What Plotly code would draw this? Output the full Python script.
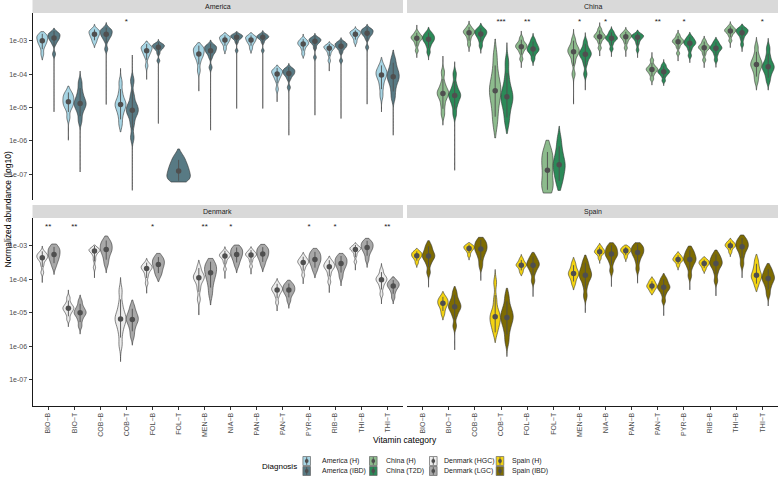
import numpy as np
import plotly.graph_objects as go

# ---------------- data (log10 normalized abundance) ----------------
# each violin: (lowest value, highest value, [bulk of the observations])
categories = ["BIO-B", "BIO-T", "COB-B", "COB-T", "FOL-B", "FOL-T", "MEN-B",
              "NIA-B", "PAN-B", "PAN-T", "PYR-B", "RIB-B", "THI-B", "THI-T"]
tick_labels = [c.replace("-", "\u2212") for c in categories]
y_tick_values = [-3, -4, -5, -6, -7]
y_tick_labels = ["1e-03", "1e-04", "1e-05", "1e-06", "1e-07"]

america_h = {
    "BIO-B": (-3.58, -2.73, [-3.4, -3.2, -3.1, -3.04, -3.0, -2.93, -2.88, -2.85, -2.82]),
    "BIO-T": (-5.98, -4.36, [-5.3, -5.05, -4.95, -4.88, -4.83, -4.74, -4.68, -4.62, -4.52]),
    "COB-B": (-3.21, -2.51, [-3.06, -2.97, -2.9, -2.85, -2.81, -2.76, -2.73, -2.7, -2.66]),
    "COB-T": (-5.73, -3.83, [-5.5, -5.25, -5.08, -4.98, -4.91, -4.85, -4.75, -4.55, -4.25]),
    "FOL-B": (-4.16, -3.01, [-3.75, -3.5, -3.4, -3.34, -3.3, -3.23, -3.2, -3.18, -3.14]),
    "MEN-B": (-4.51, -3.06, [-3.9, -3.65, -3.5, -3.44, -3.4, -3.31, -3.25, -3.22, -3.19]),
    "NIA-B": (-3.40, -2.76, [-3.25, -3.12, -3.05, -3.01, -2.98, -2.93, -2.9, -2.88, -2.86]),
    "PAN-B": (-3.38, -2.76, [-3.24, -3.12, -3.05, -3.01, -2.98, -2.93, -2.9, -2.88, -2.86]),
    "PAN-T": (-4.83, -3.73, [-4.45, -4.2, -4.1, -4.04, -4.0, -3.94, -3.91, -3.89, -3.86]),
    "PYR-B": (-3.53, -2.80, [-3.4, -3.27, -3.18, -3.13, -3.1, -3.07, -3.04, -3.0, -2.95]),
    "RIB-B": (-3.91, -3.03, [-3.6, -3.42, -3.32, -3.27, -3.23, -3.2, -3.18, -3.16, -3.14]),
    "THI-B": (-3.18, -2.58, [-3.05, -2.95, -2.88, -2.84, -2.81, -2.77, -2.75, -2.73, -2.7]),
    "THI-T": (-5.13, -3.50, [-4.65, -4.4, -4.22, -4.1, -4.03, -3.97, -3.92, -3.85, -3.72]),
}
america_ibd = {
    "BIO-B": (-5.13, -2.63, [-3.4, -3.1, -3.0, -2.95, -2.92, -2.86, -2.82, -2.79, -2.76]),
    "BIO-T": (-6.93, -3.91, [-5.4, -5.15, -5.0, -4.92, -4.88, -4.78, -4.68, -4.5, -4.25]),
    "COB-B": (-4.91, -2.46, [-3.25, -3.0, -2.9, -2.85, -2.81, -2.75, -2.71, -2.68, -2.63]),
    "COB-T": (-7.48, -3.43, [-5.9, -5.5, -5.25, -5.15, -5.08, -4.98, -4.9, -4.65, -4.2]),
    "FOL-B": (-5.48, -2.96, [-3.6, -3.38, -3.27, -3.23, -3.2, -3.16, -3.14, -3.12, -3.09]),
    "FOL-T": (-7.23, -6.24, [-7.2, -7.14, -7.08, -7.0, -6.9, -6.82, -6.72, -6.6, -6.45]),
    "MEN-B": (-5.68, -2.98, [-3.8, -3.5, -3.38, -3.33, -3.3, -3.23, -3.2, -3.17, -3.13]),
    "NIA-B": (-5.03, -2.73, [-3.3, -3.05, -2.96, -2.92, -2.9, -2.87, -2.85, -2.83, -2.81]),
    "PAN-B": (-5.03, -2.70, [-3.3, -3.05, -2.96, -2.92, -2.9, -2.88, -2.86, -2.83, -2.8]),
    "PAN-T": (-5.83, -3.68, [-4.4, -4.15, -4.05, -4.0, -3.98, -3.93, -3.89, -3.86, -3.83]),
    "PYR-B": (-5.23, -2.78, [-3.5, -3.22, -3.1, -3.05, -3.02, -2.99, -2.96, -2.94, -2.91]),
    "RIB-B": (-5.33, -2.91, [-3.6, -3.35, -3.24, -3.2, -3.17, -3.13, -3.1, -3.07, -3.04]),
    "THI-B": (-4.90, -2.51, [-3.2, -2.95, -2.85, -2.81, -2.78, -2.73, -2.7, -2.67, -2.64]),
    "THI-T": (-5.83, -3.28, [-4.7, -4.45, -4.25, -4.15, -4.08, -3.98, -3.9, -3.75, -3.55]),
}
china_h = {
    "BIO-B": (-3.51, -2.53, [-3.3, -3.12, -3.02, -2.96, -2.93, -2.9, -2.87, -2.83, -2.75]),
    "BIO-T": (-5.53, -3.46, [-5.2, -4.95, -4.75, -4.64, -4.58, -4.52, -4.45, -4.28, -3.95]),
    "COB-B": (-3.33, -2.41, [-3.12, -2.97, -2.86, -2.8, -2.76, -2.73, -2.7, -2.66, -2.58]),
    "COB-T": (-5.91, -2.95, [-5.5, -5.15, -4.85, -4.65, -4.5, -4.38, -4.2, -3.9, -3.45]),
    "FOL-B": (-3.81, -2.71, [-3.55, -3.36, -3.26, -3.21, -3.18, -3.14, -3.1, -3.04, -2.92]),
    "FOL-T": (-7.56, -5.98, [-7.5, -7.42, -7.3, -7.1, -6.88, -6.7, -6.55, -6.4, -6.22]),
    "MEN-B": (-4.90, -2.66, [-4.0, -3.65, -3.47, -3.38, -3.33, -3.27, -3.22, -3.12, -2.95]),
    "NIA-B": (-3.46, -2.46, [-3.22, -3.05, -2.95, -2.91, -2.88, -2.85, -2.81, -2.75, -2.65]),
    "PAN-B": (-3.48, -2.60, [-3.22, -3.06, -2.97, -2.92, -2.88, -2.85, -2.83, -2.79, -2.73]),
    "PAN-T": (-4.33, -3.35, [-4.15, -4.02, -3.94, -3.9, -3.86, -3.83, -3.8, -3.72, -3.58]),
    "PYR-B": (-3.61, -2.68, [-3.38, -3.2, -3.1, -3.06, -3.03, -3.0, -2.97, -2.92, -2.83]),
    "RIB-B": (-3.81, -2.86, [-3.58, -3.4, -3.29, -3.24, -3.21, -3.18, -3.15, -3.09, -3.0]),
    "THI-B": (-3.21, -2.43, [-3.0, -2.86, -2.78, -2.74, -2.71, -2.68, -2.66, -2.62, -2.56]),
    "THI-T": (-4.48, -2.90, [-4.2, -4.0, -3.85, -3.76, -3.71, -3.65, -3.56, -3.42, -3.18]),
}
china_t2d = {
    "BIO-B": (-3.58, -2.60, [-3.35, -3.17, -3.06, -3.0, -2.96, -2.91, -2.87, -2.82, -2.75]),
    "BIO-T": (-6.88, -3.63, [-5.2, -4.95, -4.8, -4.7, -4.64, -4.58, -4.5, -4.32, -4.0]),
    "COB-B": (-3.38, -2.48, [-3.16, -3.0, -2.9, -2.84, -2.8, -2.75, -2.72, -2.68, -2.62]),
    "COB-T": (-5.78, -3.06, [-5.45, -5.15, -4.92, -4.78, -4.68, -4.56, -4.4, -4.1, -3.65]),
    "FOL-B": (-3.75, -2.78, [-3.55, -3.4, -3.32, -3.28, -3.25, -3.19, -3.14, -3.07, -2.96]),
    "FOL-T": (-7.48, -5.56, [-7.3, -7.1, -6.95, -6.8, -6.71, -6.62, -6.45, -6.25, -5.95]),
    "MEN-B": (-4.48, -2.76, [-4.0, -3.7, -3.54, -3.46, -3.41, -3.36, -3.3, -3.2, -3.03]),
    "NIA-B": (-3.48, -2.58, [-3.25, -3.1, -3.0, -2.96, -2.93, -2.9, -2.86, -2.8, -2.72]),
    "PAN-B": (-3.51, -2.68, [-3.28, -3.1, -3.0, -2.94, -2.9, -2.87, -2.85, -2.83, -2.8]),
    "PAN-T": (-4.35, -3.56, [-4.2, -4.07, -4.0, -3.96, -3.93, -3.9, -3.87, -3.8, -3.72]),
    "PYR-B": (-3.66, -2.75, [-3.45, -3.27, -3.16, -3.11, -3.08, -3.04, -3.0, -2.95, -2.88]),
    "RIB-B": (-3.80, -2.90, [-3.58, -3.42, -3.32, -3.26, -3.23, -3.2, -3.16, -3.1, -3.02]),
    "THI-B": (-3.33, -2.50, [-3.12, -2.95, -2.84, -2.79, -2.76, -2.71, -2.68, -2.66, -2.62]),
    "THI-T": (-4.48, -2.93, [-4.2, -4.02, -3.9, -3.82, -3.78, -3.72, -3.62, -3.46, -3.22]),
}
denmark_hgc = {
    "BIO-B": (-4.10, -3.01, [-3.8, -3.58, -3.45, -3.39, -3.36, -3.31, -3.28, -3.25, -3.18]),
    "BIO-T": (-5.42, -4.32, [-5.2, -5.05, -4.96, -4.91, -4.87, -4.83, -4.79, -4.7, -4.55]),
    "COB-B": (-3.96, -2.98, [-3.65, -3.42, -3.28, -3.2, -3.16, -3.14, -3.12, -3.1, -3.07]),
    "COB-T": (-6.46, -3.95, [-5.95, -5.6, -5.38, -5.25, -5.19, -5.1, -4.98, -4.75, -4.35]),
    "FOL-B": (-4.42, -3.38, [-4.12, -3.92, -3.8, -3.72, -3.68, -3.65, -3.62, -3.58, -3.52]),
    "MEN-B": (-5.07, -3.43, [-4.6, -4.3, -4.12, -4.02, -3.96, -3.92, -3.87, -3.78, -3.63]),
    "NIA-B": (-3.98, -3.03, [-3.7, -3.5, -3.4, -3.34, -3.31, -3.28, -3.26, -3.22, -3.16]),
    "PAN-B": (-3.85, -3.03, [-3.62, -3.46, -3.36, -3.31, -3.28, -3.25, -3.23, -3.19, -3.13]),
    "PAN-T": (-4.95, -3.98, [-4.7, -4.52, -4.42, -4.36, -4.32, -4.28, -4.25, -4.2, -4.12]),
    "PYR-B": (-4.14, -3.20, [-3.88, -3.7, -3.6, -3.54, -3.5, -3.47, -3.44, -3.39, -3.32]),
    "RIB-B": (-4.40, -3.31, [-4.08, -3.87, -3.74, -3.67, -3.63, -3.59, -3.56, -3.5, -3.44]),
    "THI-B": (-3.73, -2.91, [-3.48, -3.3, -3.2, -3.14, -3.11, -3.09, -3.07, -3.04, -3.0]),
    "THI-T": (-4.74, -3.53, [-4.45, -4.25, -4.13, -4.06, -4.02, -3.98, -3.94, -3.87, -3.73]),
}
denmark_lgc = {
    "BIO-B": (-3.86, -2.95, [-3.62, -3.48, -3.4, -3.32, -3.26, -3.2, -3.13, -3.07, -3.02]),
    "BIO-T": (-5.64, -4.47, [-5.4, -5.22, -5.1, -5.04, -5.0, -4.95, -4.89, -4.8, -4.65]),
    "COB-B": (-3.81, -2.71, [-3.55, -3.38, -3.25, -3.16, -3.11, -3.04, -2.97, -2.9, -2.82]),
    "COB-T": (-5.97, -4.62, [-5.7, -5.5, -5.35, -5.26, -5.2, -5.14, -5.06, -4.96, -4.8]),
    "FOL-B": (-4.07, -3.23, [-3.9, -3.8, -3.7, -3.62, -3.56, -3.5, -3.44, -3.38, -3.31]),
    "MEN-B": (-4.77, -3.38, [-4.45, -4.2, -4.02, -3.9, -3.81, -3.72, -3.64, -3.56, -3.48]),
    "NIA-B": (-3.81, -2.98, [-3.6, -3.47, -3.38, -3.31, -3.26, -3.2, -3.14, -3.09, -3.04]),
    "PAN-B": (-3.78, -2.96, [-3.58, -3.45, -3.36, -3.3, -3.25, -3.19, -3.13, -3.08, -3.03]),
    "PAN-T": (-4.87, -4.03, [-4.65, -4.5, -4.42, -4.36, -4.32, -4.27, -4.22, -4.17, -4.11]),
    "PYR-B": (-3.96, -3.08, [-3.75, -3.62, -3.53, -3.46, -3.41, -3.35, -3.28, -3.22, -3.16]),
    "RIB-B": (-4.20, -3.23, [-3.93, -3.76, -3.65, -3.58, -3.53, -3.47, -3.41, -3.36, -3.3]),
    "THI-B": (-3.65, -2.78, [-3.42, -3.26, -3.16, -3.1, -3.05, -3.0, -2.95, -2.9, -2.85]),
    "THI-T": (-4.74, -3.93, [-4.55, -4.4, -4.3, -4.24, -4.2, -4.16, -4.12, -4.08, -4.02]),
}
spain_h = {
    "BIO-B": (-3.65, -3.08, [-3.52, -3.42, -3.36, -3.32, -3.3, -3.26, -3.23, -3.2, -3.16]),
    "BIO-T": (-5.22, -4.37, [-5.05, -4.92, -4.82, -4.76, -4.72, -4.67, -4.62, -4.58, -4.5]),
    "COB-B": (-3.43, -2.91, [-3.3, -3.2, -3.14, -3.1, -3.08, -3.05, -3.02, -3.0, -2.97]),
    "COB-T": (-5.89, -3.71, [-5.6, -5.42, -5.3, -5.2, -5.12, -5.04, -4.9, -4.6, -4.1]),
    "FOL-B": (-3.90, -3.26, [-3.8, -3.71, -3.64, -3.6, -3.58, -3.55, -3.51, -3.46, -3.38]),
    "MEN-B": (-4.32, -3.35, [-4.15, -4.02, -3.93, -3.87, -3.83, -3.78, -3.72, -3.62, -3.5]),
    "NIA-B": (-3.53, -2.93, [-3.38, -3.28, -3.23, -3.2, -3.18, -3.15, -3.12, -3.08, -3.02]),
    "PAN-B": (-3.48, -2.98, [-3.35, -3.26, -3.2, -3.17, -3.15, -3.12, -3.09, -3.06, -3.03]),
    "PAN-T": (-4.47, -3.93, [-4.38, -4.31, -4.26, -4.23, -4.2, -4.17, -4.13, -4.08, -4.02]),
    "PYR-B": (-3.73, -3.18, [-3.6, -3.51, -3.46, -3.43, -3.41, -3.38, -3.35, -3.31, -3.26]),
    "RIB-B": (-3.83, -3.33, [-3.72, -3.64, -3.59, -3.55, -3.53, -3.5, -3.47, -3.44, -3.4]),
    "THI-B": (-3.33, -2.78, [-3.2, -3.11, -3.05, -3.02, -3.0, -2.97, -2.94, -2.91, -2.86]),
    "THI-T": (-4.37, -3.26, [-4.2, -4.06, -3.97, -3.92, -3.88, -3.8, -3.7, -3.58, -3.42]),
}
spain_ibd = {
    "BIO-B": (-4.24, -2.85, [-3.8, -3.55, -3.42, -3.35, -3.31, -3.25, -3.18, -3.08, -2.97]),
    "BIO-T": (-6.11, -4.22, [-5.4, -5.1, -4.95, -4.87, -4.82, -4.75, -4.68, -4.56, -4.38]),
    "COB-B": (-4.04, -2.75, [-3.6, -3.38, -3.24, -3.15, -3.1, -3.03, -2.96, -2.89, -2.82]),
    "COB-T": (-6.31, -4.27, [-5.85, -5.55, -5.36, -5.23, -5.14, -5.05, -4.95, -4.78, -4.5]),
    "FOL-B": (-4.52, -3.20, [-4.05, -3.82, -3.7, -3.62, -3.58, -3.53, -3.47, -3.4, -3.3]),
    "MEN-B": (-5.00, -3.28, [-4.5, -4.2, -4.02, -3.93, -3.88, -3.8, -3.72, -3.6, -3.45]),
    "NIA-B": (-4.22, -2.91, [-3.75, -3.5, -3.36, -3.3, -3.25, -3.19, -3.12, -3.05, -2.99]),
    "PAN-B": (-4.12, -2.91, [-3.7, -3.47, -3.33, -3.25, -3.2, -3.14, -3.08, -3.02, -2.97]),
    "PAN-T": (-5.09, -3.83, [-4.65, -4.45, -4.33, -4.28, -4.24, -4.19, -4.13, -4.05, -3.96]),
    "PYR-B": (-4.32, -3.01, [-3.9, -3.66, -3.53, -3.46, -3.41, -3.35, -3.28, -3.2, -3.1]),
    "RIB-B": (-4.50, -3.13, [-4.05, -3.8, -3.65, -3.58, -3.53, -3.47, -3.41, -3.33, -3.24]),
    "THI-B": (-3.96, -2.68, [-3.55, -3.32, -3.17, -3.08, -3.03, -2.97, -2.91, -2.84, -2.77]),
    "THI-T": (-4.80, -3.53, [-4.45, -4.25, -4.12, -4.03, -3.98, -3.92, -3.85, -3.76, -3.65]),
}

america_sig = ["", "", "", "*", "", "", "", "", "", "", "", "", "", ""]
china_sig = ["", "", "", "***", "**", "", "*", "*", "", "**", "*", "", "", "*"]
denmark_sig = ["**", "**", "", "", "*", "", "**", "*", "", "", "*", "*", "", "**"]
spain_sig = ["", "", "", "", "", "", "", "", "", "", "", "", "", ""]

legend_labels = ["America (H)", "America (IBD)", "China (H)", "China (T2D)",
                 "Denmark (HGC)", "Denmark (LGC)", "Spain (H)", "Spain (IBD)"]

# ---------------- styling ----------------
COLORS = {
    "America (H)": "#a7d5e4", "America (IBD)": "#587a84",
    "China (H)": "#8dbb8d", "China (T2D)": "#2b8a58",
    "Denmark (HGC)": "#ececec", "Denmark (LGC)": "#a8a8a8",
    "Spain (H)": "#f3d312", "Spain (IBD)": "#7d6b02",
}
WIDTHS = {
    "America (H)": 0.42, "America (IBD)": 0.46, "China (H)": 0.44, "China (T2D)": 0.46,
    "Denmark (HGC)": 0.42, "Denmark (LGC)": 0.46, "Spain (H)": 0.40, "Spain (IBD)": 0.48,
}
FONT = "Liberation Sans, Arial, sans-serif"
OUTLINE = "#333333"
POINT = "#4f4f4f"

W, H = 778, 479
def px(x): return x / W
def py(y): return 1 - y / H

LEFT = (32.5, 403.0)
RIGHT = (407.0, 778.0)
TOP = (13.0, 200.0)
BOTTOM = (218.0, 406.0)

panels = [
    dict(name="America", groups=[("America (H)", america_h), ("America (IBD)", america_ibd)],
         sig=america_sig, xa="x", ya="y", xd=LEFT, yd=TOP, yr=[-7.768, -2.172]),
    dict(name="China", groups=[("China (H)", china_h), ("China (T2D)", china_t2d)],
         sig=china_sig, xa="x2", ya="y2", xd=RIGHT, yd=TOP, yr=[-7.768, -2.172]),
    dict(name="Denmark", groups=[("Denmark (HGC)", denmark_hgc), ("Denmark (LGC)", denmark_lgc)],
         sig=denmark_sig, xa="x3", ya="y3", xd=LEFT, yd=BOTTOM, yr=[-7.785, -2.173]),
    dict(name="Spain", groups=[("Spain (H)", spain_h), ("Spain (IBD)", spain_ibd)],
         sig=spain_sig, xa="x4", ya="y4", xd=RIGHT, yd=BOTTOM, yr=[-7.785, -2.173]),
]


def kde_bandwidth(v):
    s = min(np.std(v, ddof=1), (np.percentile(v, 75) - np.percentile(v, 25)) / 1.349)
    return max(0.045, 0.75 * 1.059 * s * len(v) ** -0.2)


fig = go.Figure()
DODGE = 0.225

for p in panels:
    pts = {g: dict(x=[], y=[], lo=[], hi=[]) for g, _ in p["groups"]}
    for ci, cat in enumerate(categories):
        present = [(g, d[cat]) for g, d in p["groups"] if cat in d]
        for k, (g, (vmin, vmax, body)) in enumerate(present):
            if len(present) == 2:
                pos = ci + 1 + (-DODGE if k == 0 else DODGE)
                w = WIDTHS[g]
            else:
                pos = ci + 1
                w = 0.9
            v = np.array(body, dtype=float)
            fig.add_trace(go.Violin(
                x0=pos, y=v, width=w, xaxis=p["xa"], yaxis=p["ya"],
                orientation="v", side="both", spanmode="manual", span=[vmin, vmax],
                bandwidth=kde_bandwidth(v), scalemode="width",
                points=False, box_visible=False, meanline_visible=False,
                fillcolor=COLORS[g], line=dict(color=OUTLINE, width=0.6),
                opacity=1, showlegend=False, hoverinfo="skip", name=g,
            ))
            med = float(np.median(v))
            m, s = float(v.mean()), float(v.std())
            lo, hi = max(m - 1.3 * s, vmin), min(m + 1.3 * s, vmax)
            pts[g]["x"].append(pos)
            pts[g]["y"].append(med)
            pts[g]["lo"].append(max(med - lo, 0))
            pts[g]["hi"].append(max(hi - med, 0))
    for g, d in pts.items():
        fig.add_trace(go.Scatter(
            x=d["x"], y=d["y"], mode="markers", xaxis=p["xa"], yaxis=p["ya"],
            marker=dict(size=5.5, color=POINT),
            error_y=dict(type="data", symmetric=False, array=d["hi"], arrayminus=d["lo"],
                         width=0, thickness=0.9, color=POINT),
            showlegend=False, hoverinfo="skip",
        ))
    sx = [ci + 1 for ci, s in enumerate(p["sig"]) if s]
    st = [s for s in p["sig"] if s]
    if sx:
        fig.add_trace(go.Scatter(
            x=sx, y=[-2.43] * len(sx), text=st, mode="text", xaxis=p["xa"], yaxis=p["ya"],
            textfont=dict(size=8, color="#1a1a1a", family=FONT),
            showlegend=False, hoverinfo="skip",
        ))

# ---------------- axes ----------------
tickfont = dict(size=7, color="#4d4d4d", family=FONT)
layout = dict(
    width=W, height=H, margin=dict(l=0, r=0, t=0, b=0),
    paper_bgcolor="white", plot_bgcolor="white", violinmode="overlay",
    font=dict(family=FONT, color="#1a1a1a"),
    showlegend=False,
)
for i, p in enumerate(panels):
    sfx = "" if i == 0 else str(i + 1)
    bottom = p["yd"] is BOTTOM
    left = p["xd"] is LEFT
    layout["xaxis" + sfx] = dict(
        domain=[px(p["xd"][0]), px(p["xd"][1])], range=[0.4, 14.6],
        anchor="y" + sfx, showgrid=False, zeroline=False,
        tickmode="array", tickvals=list(range(1, 15)), ticktext=tick_labels,
        showticklabels=bottom, ticks="outside" if bottom else "",
        ticklen=3, tickwidth=0.8, tickcolor="#333333", tickangle=-90,
        tickfont=tickfont, showline=bottom, linecolor="#1a1a1a", linewidth=1,
        automargin=False, fixedrange=True,
    )
    layout["yaxis" + sfx] = dict(
        domain=[py(p["yd"][1]), py(p["yd"][0])], range=p["yr"],
        anchor="x" + sfx, showgrid=False, zeroline=False,
        tickmode="array", tickvals=y_tick_values, ticktext=y_tick_labels,
        showticklabels=left, ticks="outside" if left else "",
        ticklen=3, tickwidth=0.8, tickcolor="#333333",
        tickfont=tickfont, showline=left, linecolor="#1a1a1a", linewidth=1,
        automargin=False, fixedrange=True,
    )
fig.update_layout(**layout)

# ---------------- strips, titles, legend ----------------
shapes, annotations = [], []
for p in panels:
    strip_top = 0.0 if p["yd"] is TOP else 205.0
    shapes.append(dict(type="rect", xref="paper", yref="paper",
                       x0=px(p["xd"][0]), x1=px(p["xd"][1]),
                       y0=py(p["yd"][0]), y1=py(strip_top),
                       fillcolor="#d9d9d9", line=dict(width=0), layer="below"))
    annotations.append(dict(text=p["name"], xref="paper", yref="paper",
                            x=px((p["xd"][0] + p["xd"][1]) / 2),
                            y=py((strip_top + p["yd"][0]) / 2),
                            showarrow=False, font=dict(size=7, color="#1a1a1a", family=FONT),
                            xanchor="center", yanchor="middle"))

annotations.append(dict(text="Vitamin category", xref="paper", yref="paper",
                        x=px(405), y=py(440), showarrow=False,
                        font=dict(size=8.5, color="#000000", family=FONT),
                        xanchor="center", yanchor="middle"))
annotations.append(dict(text="Normalized abundance (log10)", xref="paper", yref="paper",
                        x=px(7), y=py(209.5), showarrow=False, textangle=-90,
                        font=dict(size=8.5, color="#000000", family=FONT),
                        xanchor="center", yanchor="middle"))
annotations.append(dict(text="Diagnosis", xref="paper", yref="paper",
                        x=px(299), y=py(466), showarrow=False,
                        font=dict(size=8, color="#000000", family=FONT),
                        xanchor="right", yanchor="middle"))

key_cx = [306.7, 373.3, 433.3, 500.0]
text_x = [320.0, 383.5, 441.7, 510.0]
row_cy = [461.0, 471.0]
for j, lab in enumerate(legend_labels):
    col, row = j // 2, j % 2
    cx, cy = key_cx[col], row_cy[row]
    shapes.append(dict(type="rect", xref="paper", yref="paper",
                       x0=px(cx - 3.8), x1=px(cx + 3.8), y0=py(cy + 4.5), y1=py(cy - 4.5),
                       fillcolor=COLORS[lab], line=dict(color="#666666", width=0.7)))
    shapes.append(dict(type="line", xref="paper", yref="paper",
                       x0=px(cx), x1=px(cx), y0=py(cy + 3.8), y1=py(cy - 3.8),
                       line=dict(color=POINT, width=0.9)))
    shapes.append(dict(type="circle", xref="paper", yref="paper",
                       x0=px(cx - 1.9), x1=px(cx + 1.9), y0=py(cy + 1.9), y1=py(cy - 1.9),
                       fillcolor=POINT, line=dict(width=0)))
    annotations.append(dict(text=lab, xref="paper", yref="paper",
                            x=px(text_x[col]), y=py(cy), showarrow=False,
                            font=dict(size=7, color="#1a1a1a", family=FONT),
                            xanchor="left", yanchor="middle"))

fig.update_layout(shapes=shapes, annotations=annotations)
fig.write_html(
    "out.html",
    config={"displayModeBar": False},
    post_script="document.body.style.margin='0px';document.body.style.padding='0px';",
)
